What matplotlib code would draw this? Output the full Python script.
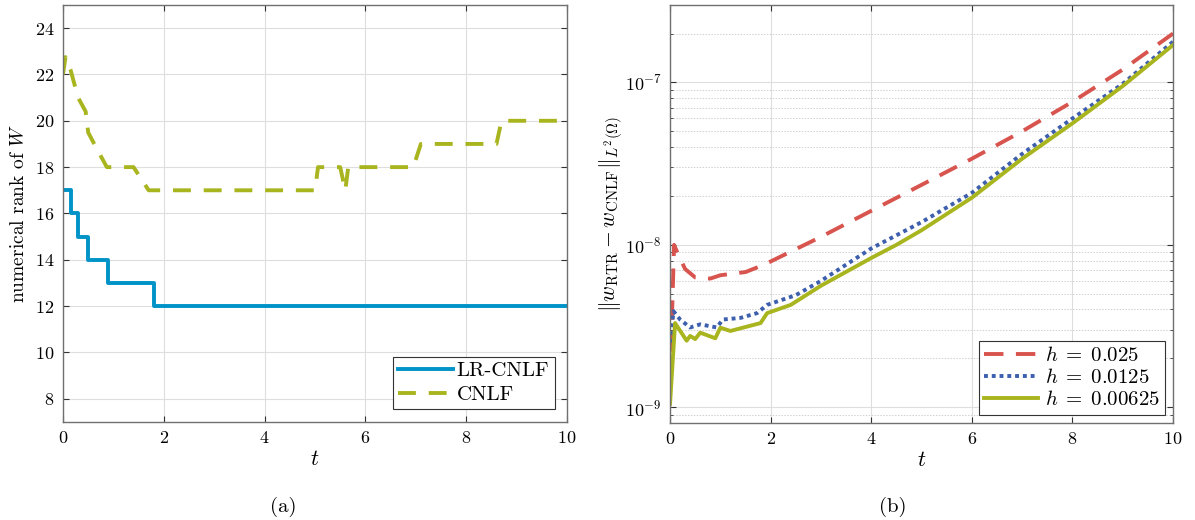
import matplotlib
matplotlib.use("Agg")
from matplotlib import pyplot as plt
from matplotlib.ticker import LogLocator, NullFormatter
import numpy as np

plt.rcParams['font.family'] = 'serif'
plt.rcParams['font.serif'] = ['cmr10']
plt.rcParams['mathtext.fontset'] = 'cm'
plt.rcParams['axes.formatter.use_mathtext'] = True
plt.rcParams['axes.unicode_minus'] = False

# (a) numerical rank
lr_t = [0, 0.15, 0.3, 0.5, 0.9, 1.8, 10]
lr_rank = [17, 16, 15, 14, 13, 12, 12]

cnlf_t = [0, 0.05, 0.15, 0.3, 0.45, 0.5, 0.62, 0.87, 1.4, 1.7, 5.0, 5.06,
          5.5, 5.6, 5.66, 6.95, 7.1, 8.6, 8.7, 10]
cnlf_rank = [22, 22.75, 22.2, 21, 20.4, 19.5, 19, 18, 18, 17, 17, 18,
             18, 17, 18, 18, 19, 19, 20, 20]

# (b) error vs time
red_t = [0, 0.08, 0.15, 0.3, 0.5, 0.8, 1.0, 1.5, 1.8, 2, 3, 4, 5, 6, 7, 8, 9, 10]
red_err = [1.4e-9, 1.0e-8, 8.9e-9, 7.1e-9, 6.3e-9, 6.2e-9, 6.5e-9, 6.8e-9, 7.4e-9,
           7.9e-9, 1.12e-8, 1.62e-8, 2.34e-8, 3.39e-8, 5.0e-8, 7.6e-8, 1.2e-7, 2.0e-7]

blue_t = [0, 0.07, 0.2, 0.4, 0.6, 0.93, 1.05, 1.4, 1.73, 1.93, 2.5, 3, 4, 5, 6,
          7, 8, 9, 10]
blue_err = [2.5e-9, 3.9e-9, 3.47e-9, 3.1e-9, 3.24e-9, 3.1e-9, 3.47e-9, 3.55e-9,
            3.8e-9, 4.27e-9, 4.9e-9, 6.0e-9, 9.5e-9, 1.38e-8, 2.09e-8, 3.63e-8,
            6.0e-8, 9.8e-8, 1.78e-7]

olive_t = [0, 0.1, 0.33, 0.4, 0.5, 0.6, 0.9, 1.0, 1.2, 1.8, 1.93, 2.4, 3, 4, 4.5,
           5, 6, 7, 8, 9, 10]
olive_err = [1.05e-9, 3.3e-9, 2.57e-9, 2.75e-9, 2.63e-9, 2.88e-9, 2.66e-9, 3.09e-9,
             2.95e-9, 3.3e-9, 3.8e-9, 4.27e-9, 5.6e-9, 8.3e-9, 1.0e-8, 1.23e-8,
             1.95e-8, 3.39e-8, 5.6e-8, 9.5e-8, 1.7e-7]

h_labels = [r"$h\;=\;0.025$", r"$h\;=\;0.0125$", r"$h\;=\;0.00625$"]

BLUE = '#0093c8'
OLIVE = '#a9b51e'
RED = '#d8544e'
DBLUE = '#3d5fad'
SPINE = '#707070'
LW = 2.8


def style(ax):
    for s in ax.spines.values():
        s.set_color(SPINE)
        s.set_linewidth(1.0)
    ax.tick_params(which='both', direction='in', top=True, right=True,
                   color='#333333', labelsize=13, length=4, pad=6)
    ax.tick_params(which='minor', length=2.5)
    ax.set_axisbelow(True)


fig = plt.figure(figsize=(11.95, 5.2), dpi=100)
ax1 = fig.add_axes([0.0527, 0.1885, 0.4218, 0.802])
ax2 = fig.add_axes([0.5607, 0.1865, 0.4209, 0.804])

# left panel
ax1.plot(lr_t, lr_rank, drawstyle='steps-post', color=BLUE, lw=LW,
         label='LR-CNLF')
ax1.plot(cnlf_t, cnlf_rank, color=OLIVE, lw=LW, dashes=(4.6, 3.3),
         dash_capstyle='butt', label='CNLF')
ax1.set_xlim(0, 10)
ax1.set_ylim(7, 25)
ax1.set_xticks(np.arange(0, 11, 2))
ax1.set_yticks(np.arange(8, 25, 2))
ax1.grid(True, color='#dedede', lw=0.8)
style(ax1)
ax1.set_xlabel('$t$', fontsize=16, labelpad=2)
ax1.set_ylabel('numerical rank of $W$', fontsize=14, labelpad=5)
leg = ax1.legend(loc='lower right', fontsize=15, fancybox=False,
                 edgecolor='#333333', framealpha=1, handlelength=2.6,
                 handletextpad=0.2, borderpad=0.25, labelspacing=0.25,
                 borderaxespad=0.6)
leg.get_frame().set_linewidth(0.8)

# right panel
ax2.semilogy(red_t, red_err, color=RED, lw=LW, dashes=(5, 3.2),
             dash_capstyle='butt', label=h_labels[0])
ax2.semilogy(blue_t, blue_err, color=DBLUE, lw=LW, dashes=(1, 1),
             dash_capstyle='butt', label=h_labels[1])
ax2.semilogy(olive_t, olive_err, color=OLIVE, lw=LW, label=h_labels[2])
ax2.set_xlim(0, 10)
ax2.set_ylim(8e-10, 3e-7)
ax2.set_xticks(np.arange(0, 11, 2))
ax2.yaxis.set_major_locator(LogLocator(base=10, numticks=10))
ax2.yaxis.set_minor_locator(LogLocator(base=10, subs=np.arange(2, 10), numticks=20))
ax2.yaxis.set_minor_formatter(NullFormatter())
ax2.grid(True, which='major', color='#dedede', lw=0.8)
ax2.grid(True, which='minor', axis='y', color='#d0d0d0', lw=0.7, linestyle=(0, (1.5, 1.5)))
style(ax2)
ax2.set_xlabel('$t$', fontsize=16, labelpad=2)
ax2.set_ylabel(r'$\|w_{\mathrm{RTR}} - w_{\mathrm{CNLF}}\|_{L^2(\Omega)}$',
               fontsize=15.5, labelpad=0)
leg2 = ax2.legend(loc='lower right', fontsize=15, fancybox=False,
                  edgecolor='#333333', framealpha=1, handlelength=2.6,
                  handletextpad=0.3, borderpad=0.25, labelspacing=0.15,
                  borderaxespad=0.4)
leg2.get_frame().set_linewidth(0.8)

fig.text(283 / 1195, 1 - 507 / 520, '(a)', ha='center', va='center', fontsize=15)
fig.text(893 / 1195, 1 - 507 / 520, '(b)', ha='center', va='center', fontsize=15)

fig.savefig('out.png', dpi=100)
